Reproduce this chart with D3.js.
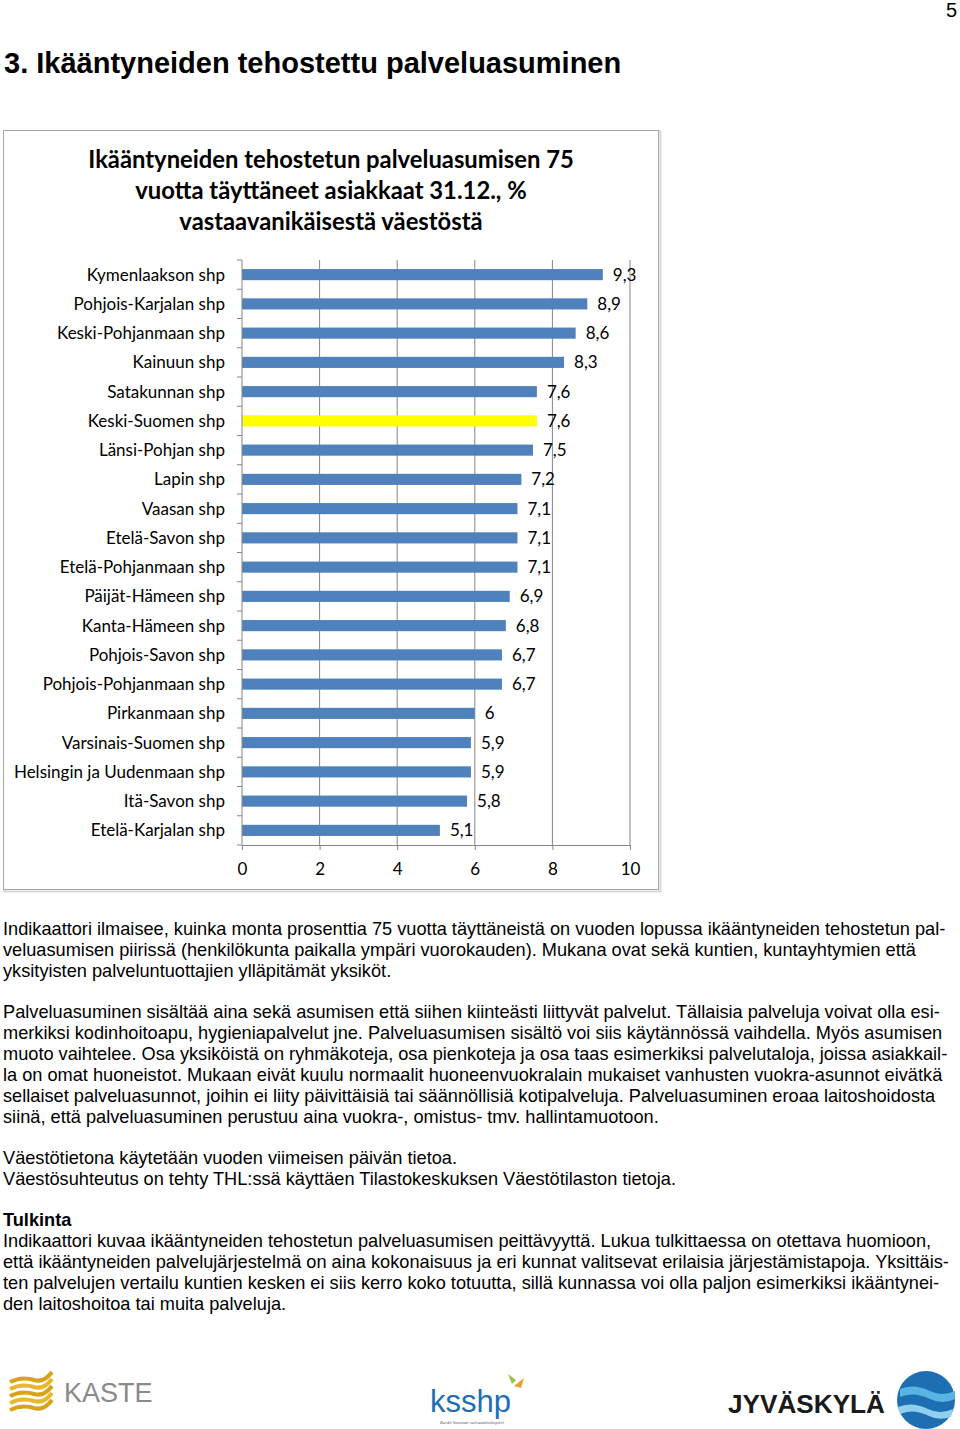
<!DOCTYPE html>
<html lang="fi">
<head>
  <meta charset="UTF-8">
  <title>Ikääntyneiden tehostettu palveluasuminen</title>
  <script src="https://d3js.org/d3.v7.min.js"></script>
</head>
<style>
  body { margin: 0; padding: 0; background: #fff; }
  svg { display: block; }
  .para { font-family: "Liberation Sans", Arial, sans-serif; font-size: 18.2px; fill: #000; }
  .cal { font-family: Lato, "Open Sans", sans-serif; }
</style>
<body>
<div id="page"></div>
<script>
  // chart data
  var categories = ['Kymenlaakson shp', 'Pohjois-Karjalan shp', 'Keski-Pohjanmaan shp', 'Kainuun shp',
    'Satakunnan shp', 'Keski-Suomen shp', 'Länsi-Pohjan shp', 'Lapin shp', 'Vaasan shp', 'Etelä-Savon shp',
    'Etelä-Pohjanmaan shp', 'Päijät-Hämeen shp', 'Kanta-Hämeen shp', 'Pohjois-Savon shp',
    'Pohjois-Pohjanmaan shp', 'Pirkanmaan shp', 'Varsinais-Suomen shp', 'Helsingin ja Uudenmaan shp',
    'Itä-Savon shp', 'Etelä-Karjalan shp'];
  var values = [9.3, 8.9, 8.6, 8.3, 7.6, 7.6, 7.5, 7.2, 7.1, 7.1, 7.1, 6.9, 6.8, 6.7, 6.7, 6, 5.9, 5.9, 5.8, 5.1];
  var highlight = 'Keski-Suomen shp';
  var xTicks = [0, 2, 4, 6, 8, 10];
  var chartTitle = ['Ikääntyneiden tehostetun palveluasumisen 75', 'vuotta täyttäneet asiakkaat 31.12., %', 'vastaavanikäisestä väestöstä'];

  var paragraphs = [
    ['Indikaattori ilmaisee, kuinka monta prosenttia 75 vuotta täyttäneistä on vuoden lopussa ikääntyneiden tehostetun pal-',
     'veluasumisen piirissä (henkilökunta paikalla ympäri vuorokauden). Mukana ovat sekä kuntien, kuntayhtymien että',
     'yksityisten palveluntuottajien ylläpitämät yksiköt.'],
    ['Palveluasuminen sisältää aina sekä asumisen että siihen kiinteästi liittyvät palvelut. Tällaisia palveluja voivat olla esi-',
     'merkiksi kodinhoitoapu, hygieniapalvelut jne. Palveluasumisen sisältö voi siis käytännössä vaihdella. Myös asumisen',
     'muoto vaihtelee. Osa yksiköistä on ryhmäkoteja, osa pienkoteja ja osa taas esimerkiksi palvelutaloja, joissa asiakkail-',
     'la on omat huoneistot. Mukaan eivät kuulu normaalit huoneenvuokralain mukaiset vanhusten vuokra-asunnot eivätkä',
     'sellaiset palveluasunnot, joihin ei liity päivittäisiä tai säännöllisiä kotipalveluja. Palveluasuminen eroaa laitoshoidosta',
     'siinä, että palveluasuminen perustuu aina vuokra-, omistus- tmv. hallintamuotoon.'],
    ['Väestötietona käytetään vuoden viimeisen päivän tietoa.',
     'Väestösuhteutus on tehty THL:ssä käyttäen Tilastokeskuksen Väestötilaston tietoja.'],
    ['**Tulkinta',
     'Indikaattori kuvaa ikääntyneiden tehostetun palveluasumisen peittävyyttä. Lukua tulkittaessa on otettava huomioon,',
     'että ikääntyneiden palvelujärjestelmä on aina kokonaisuus ja eri kunnat valitsevat erilaisia järjestämistapoja. Yksittäis-',
     'ten palvelujen vertailu kuntien kesken ei siis kerro koko totuutta, sillä kunnassa voi olla paljon esimerkiksi ikääntynei-',
     'den laitoshoitoa tai muita palveluja.']
  ];

  var W = 960, H = 1429;
  var svg = d3.select('#page').append('svg').attr('width', W).attr('height', H);

  // page number + heading
  svg.append('text').attr('x', 957).attr('y', 17).attr('text-anchor', 'end')
    .style('font-family', '"Liberation Sans", sans-serif').style('font-size', '20px')
    .text('5');
  svg.append('text').attr('x', 4).attr('y', 73)
    .style('font-family', '"Liberation Sans", Arial, sans-serif')
    .style('font-weight', 'bold').style('font-size', '29px')
    .text('3. Ikääntyneiden tehostettu palveluasuminen');

  // chart frame
  svg.append('rect').attr('x', 4.5).attr('y', 131.5).attr('width', 656).attr('height', 760)
    .attr('fill', 'none').attr('stroke', '#d9d9d9').attr('stroke-width', 2);
  svg.append('rect').attr('x', 3.5).attr('y', 130.5).attr('width', 655).attr('height', 759)
    .attr('fill', '#fff').attr('stroke', '#a6a6a6').attr('stroke-width', 1);

  svg.selectAll('.ctitle').data(chartTitle).enter().append('text')
    .attr('class', 'cal').attr('x', 331).attr('y', function (d, i) { return 168 + i * 31; })
    .attr('text-anchor', 'middle').style('font-weight', 'bold').style('font-size', '23.8px')
    .text(function (d) { return d; });

  var plotLeft = 242, plotRight = 630, plotTop = 260, plotBottom = 845;
  var x = d3.scaleLinear().domain([0, 10]).range([plotLeft, plotRight]);
  var y = d3.scaleBand().domain(categories).range([plotTop, plotBottom]).paddingInner(0.62).paddingOuter(0.31);
  var step = y.step();

  // gridlines
  svg.selectAll('.grid').data(xTicks.slice(1)).enter().append('line')
    .attr('x1', function (d) { return x(d); }).attr('x2', function (d) { return x(d); })
    .attr('y1', plotTop).attr('y2', plotBottom).attr('stroke', '#868686').attr('stroke-width', 1);

  // bars
  svg.selectAll('.bar').data(values).enter().append('rect')
    .attr('x', x(0)).attr('y', function (d, i) { return y(categories[i]); })
    .attr('width', function (d) { return x(d) - x(0); }).attr('height', y.bandwidth())
    .attr('fill', function (d, i) { return categories[i] === highlight ? '#ffff00' : '#4f81bd'; });

  // value labels
  svg.selectAll('.val').data(values).enter().append('text')
    .attr('class', 'cal').attr('x', function (d) { return x(d) + 10; })
    .attr('y', function (d, i) { return y(categories[i]) + y.bandwidth() / 2 + 6; })
    .style('font-size', '17px')
    .text(function (d) { return String(d).replace('.', ','); });

  // category labels
  svg.selectAll('.cat').data(categories).enter().append('text')
    .attr('class', 'cal').attr('x', 225).attr('text-anchor', 'end')
    .attr('y', function (d) { return y(d) + y.bandwidth() / 2 + 6; })
    .style('font-size', '17px').text(function (d) { return d; });

  // y axis
  svg.append('line').attr('x1', plotLeft).attr('x2', plotLeft).attr('y1', plotTop).attr('y2', plotBottom)
    .attr('stroke', '#868686');
  svg.selectAll('.ytick').data(d3.range(categories.length + 1)).enter().append('line')
    .attr('x1', plotLeft - 5).attr('x2', plotLeft)
    .attr('y1', function (d) { return plotTop + d * step; }).attr('y2', function (d) { return plotTop + d * step; })
    .attr('stroke', '#868686');

  // x axis
  var xAxis = d3.axisBottom(x).tickValues(xTicks).tickSize(5).tickPadding(10)
    .tickFormat(function (d) { return d; });
  var gx = svg.append('g').attr('transform', 'translate(0,' + plotBottom + ')').call(xAxis);
  gx.select('.domain').attr('stroke', '#868686');
  gx.selectAll('.tick line').attr('stroke', '#868686');
  gx.selectAll('.tick text').attr('class', 'cal').style('font-size', '17px').attr('fill', '#000')
    .attr('dy', '0.9em');

  // body text
  var yPos = 935;
  paragraphs.forEach(function (p) {
    p.forEach(function (line) {
      var bold = line.indexOf('**') === 0;
      svg.append('text').attr('class', 'para').attr('x', 3).attr('y', yPos)
        .style('font-weight', bold ? 'bold' : 'normal')
        .text(bold ? line.slice(2) : line);
      yPos += 21;
    });
    yPos += 20;
  });

  // logos (simplified)
  var kaste = svg.append('g').attr('transform', 'translate(10,1378)');
  d3.range(5).forEach(function (i) {
    kaste.append('path')
      .attr('d', 'M0,' + (i * 7 + 4) + ' q12,-6 24,-2 q10,3 18,-8')
      .attr('fill', 'none').attr('stroke', i % 2 ? '#e8b828' : '#d9a21b').attr('stroke-width', 4);
  });
  kaste.append('text').attr('x', 54).attr('y', 24)
    .style('font-family', '"Liberation Sans", sans-serif').style('font-size', '27px').attr('fill', '#8a8a8a')
    .text('KASTE');

  var ks = svg.append('g').attr('transform', 'translate(430,1372)');
  ks.append('text').attr('x', 0).attr('y', 40)
    .style('font-family', '"Liberation Sans", sans-serif').style('font-size', '31px')
    .attr('fill', '#1f6db5').text('ksshp');
  ks.append('path').attr('d', 'M82,12 l-4,-10 l8,6 z').attr('fill', '#9bc33c');
  ks.append('path').attr('d', 'M84,14 l10,-8 l-3,10 z').attr('fill', '#e7a12a');
  ks.append('text').attr('x', 10).attr('y', 52).style('font-family', '"Liberation Serif", serif')
    .style('font-style', 'italic').style('font-size', '5px').attr('fill', '#555').text('Keski-Suomen sairaanhoitopiiri');

  var jy = svg.append('g').attr('transform', 'translate(728,1375)');
  jy.append('text').attr('x', 0).attr('y', 38)
    .style('font-family', '"Liberation Sans", sans-serif').style('font-size', '26px')
    .style('font-weight', 'bold').attr('textLength', 157).attr('lengthAdjust', 'spacingAndGlyphs')
    .attr('fill', '#1a1a1a').text('JYVÄSKYLÄ');
  var cx = 198, cy = 25;
  jy.append('circle').attr('cx', cx).attr('cy', cy).attr('r', 29).attr('fill', '#1e6fb1');
  jy.append('path').attr('d', 'M172,14 q14,-6 30,2 q12,6 25,0 l0,8 q-12,6 -25,0 q-16,-8 -30,-2 z').attr('fill', '#58b4e3');
  jy.append('path').attr('d', 'M170,32 q14,-6 30,2 q12,6 25,0 l-2,8 q-12,4 -22,-1 q-16,-8 -29,-2 z').attr('fill', '#8fd0ef');
</script>
</body>
</html>
